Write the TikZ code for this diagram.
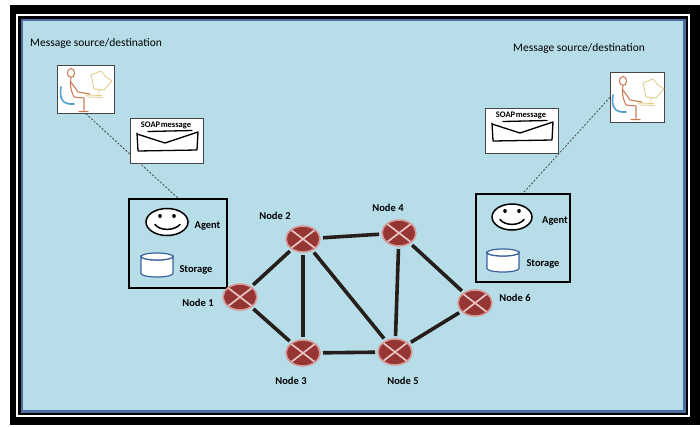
\documentclass[tikz,border=0pt]{standalone}
\usepackage{fontspec}
\setmainfont{Carlito}
\usetikzlibrary{shapes.geometric}

\definecolor{panel}{RGB}{183,221,232}
\definecolor{panelrim}{RGB}{74,108,158}
\definecolor{routerfill}{RGB}{150,54,52}
\definecolor{routerglow}{RGB}{214,156,154}
\definecolor{routerx}{RGB}{232,196,194}
\definecolor{linkcol}{RGB}{38,30,26}
\definecolor{drumblue}{RGB}{58,98,158}
\definecolor{skin}{RGB}{205,125,85}
\definecolor{chair}{RGB}{78,160,212}
\definecolor{screen}{RGB}{226,206,140}
\definecolor{frame}{RGB}{70,70,70}

\tikzset{
  router/.style={ellipse, minimum width=34pt, minimum height=26pt, inner sep=0pt,
    fill=routerfill, draw=routerglow, line width=1.6pt, outer sep=3pt,
    path picture={
      \draw[routerx, line width=1.7pt]
        (path picture bounding box.north west) -- (path picture bounding box.south east)
        (path picture bounding box.north east) -- (path picture bounding box.south west);}},
  link/.style={draw=linkcol, line width=3.6pt},
  lbl/.style={font=\bfseries\fontsize{10.5}{12}\selectfont, inner sep=0pt},
  caption/.style={font=\fontsize{11.5}{13}\selectfont, inner sep=0pt},
  agentbox/.style={draw=black, line width=1.6pt, fill=none, inner sep=0pt},
  msgbox/.style={draw=frame, line width=0.7pt, fill=white, inner sep=0pt,
    minimum width=73pt, minimum height=45pt},
  userbox/.style={draw=frame, line width=0.7pt, fill=white, inner sep=0pt},
  face/.style={ellipse, draw=black, line width=1.5pt, fill=white, inner sep=0pt},
  drum/.style={draw=drumblue, line width=1.2pt, fill=white},
  tether/.style={draw=frame, line width=0.8pt, dash pattern=on 2pt off 1.6pt},
  % seated user at a desk, origin at the top-left corner of its box
  pics/worker/.style={code={
    \draw[chair, line width=1.6pt, line cap=round]
      (4,22) .. controls (2,34) and (6,40) .. (17,39);
    \draw[skin, line width=1.1pt, line cap=round, line join=round]
      (14,8) ellipse (3.6pt and 4.4pt)
      (14,12.5) .. controls (12.5,20) and (14,26) .. (17,32)
      (14,17) -- (21,27) -- (33,29)
      (17,32) -- (27,33) -- (27,45)
      (22,46.5) -- (31,46.5);
    \draw[screen, line width=0.9pt, line join=round]
      (34,10) -- (44,6) -- (49,12) -- (55,16) -- (47,25) -- (37,24) -- cycle
      (42,25) -- (42,29)
      (28,30) -- (45,30.5)
      (30,32) -- (46,32.5);
  }},
  % envelope with its caption, origin at the top-left corner of its box
  pics/envelope/.style={code={
    \node[font=\bfseries\fontsize{8.5}{9}\selectfont, inner sep=0pt] at (36,7) {SOAP\hspace{0.6pt}message};
    \draw[black, line width=1.3pt, line cap=round, line join=round]
      (18,13.5) -- (62,12.5)
      (7,15) -- (8,33) -- (67,32) -- (68,14)
      (7,16) -- (35,25) -- (68,14);
  }},
}

\begin{document}
\begin{tikzpicture}[x=1pt, y=-1pt]
\useasboundingbox (0,0) rectangle (700,426);

% frame
\fill[white] (0,0) rectangle (700,426);
\fill[black] (10,5) rectangle (700,425);
\fill[white] (16,14) rectangle (690,417);
\fill[black] (18,16) rectangle (688,415);
\fill[panelrim] (21,19) rectangle (686,413);
\fill[panel] (23,21) rectangle (683,410);

% captions
\node[caption, anchor=west] (capL) at (30,43) {Message source/destination};
\node[caption, anchor=west] (capR) at (513,48) {Message source/destination};

% users
\node[userbox, minimum width=57pt, minimum height=48pt, anchor=north west] (userL) at (57,65) {};
\pic at (57,65) {worker};
\node[userbox, minimum width=54pt, minimum height=50pt, anchor=north west] (userR) at (610,72) {};
\pic at (609,73) {worker};

% agent boxes
\node[agentbox, minimum width=98pt, minimum height=89pt] (agentL) at (178,243.5) {};
\node[agentbox, minimum width=94pt, minimum height=88pt] (agentR) at (523,238) {};

% dashed links from users to agents
\draw[tether] (userL.south) -- (agentL.north);
\draw[tether] (userR.west) -- (agentR.north);

% SOAP messages
\node[msgbox, anchor=north west] (msgL) at (130,118) {};
\pic at (130,118) {envelope};
\node[msgbox, anchor=north west] (msgR) at (485,108) {};
\pic at (485,108) {envelope};

% agent faces
\node[face, minimum width=42pt, minimum height=27pt] (faceL) at (167,222) {};
\fill (160,216) ellipse (1.8pt and 2pt) (174,216) ellipse (1.8pt and 2pt);
\draw[line width=1.5pt, line cap=round] (155,224.5) .. controls (160,231) and (174,231) .. (180,224.5);
\node[face, minimum width=40pt, minimum height=26pt] (faceR) at (512,217) {};
\fill (505,211) ellipse (1.8pt and 2pt) (519,211) ellipse (1.8pt and 2pt);
\draw[line width=1.5pt, line cap=round] (500,219.5) .. controls (505,226) and (519,226) .. (524,219.5);

% storage drums
\draw[drum] (141,256.5) -- (141,273.5) arc[start angle=180, end angle=360, x radius=16pt, y radius=3.5pt]
  -- (173,256.5) arc[start angle=0, end angle=-180, x radius=16pt, y radius=3.5pt] -- cycle;
\draw[drum] (157,256.5) ellipse (16pt and 3.5pt);
\draw[drum] (487,252.5) -- (487,268.5) arc[start angle=180, end angle=360, x radius=16pt, y radius=3.5pt]
  -- (519,252.5) arc[start angle=0, end angle=-180, x radius=16pt, y radius=3.5pt] -- cycle;
\draw[drum] (503,252.5) ellipse (16pt and 3.5pt);

\node[lbl] (tagAL) at (207.5,226) {Agent};
\node[lbl] (tagSL) at (196,270) {Storage};
\node[lbl] (tagAR) at (555,221) {Agent};
\node[lbl] (tagSR) at (543,264) {Storage};

% network nodes
\node[router] (n1) at (240,297) {};
\node[router] (n2) at (303,239) {};
\node[router] (n3) at (303,353) {};
\node[router] (n4) at (399,233) {};
\node[router] (n5) at (395,352) {};
\node[router] (n6) at (475,303) {};

\node[lbl] (l1) at (198,303) {Node 1};
\node[lbl] (l2) at (275,216) {Node 2};
\node[lbl] (l3) at (291,381) {Node 3};
\node[lbl] (l4) at (388,208) {Node 4};
\node[lbl] (l5) at (403,381) {Node 5};
\node[lbl] (l6) at (515,298) {Node 6};

% links
\draw[link] (n1) -- (n2);
\draw[link] (n1) -- (n3);
\draw[link] (n2) -- (n4);
\draw[link] (n2) -- (n3);
\draw[link] (n2) -- (n5);
\draw[link] (n4) -- (n5);
\draw[link] (n4) -- (n6);
\draw[link] (n3) -- (n5);
\draw[link] (n5) -- (n6);
\end{tikzpicture}
\end{document}
